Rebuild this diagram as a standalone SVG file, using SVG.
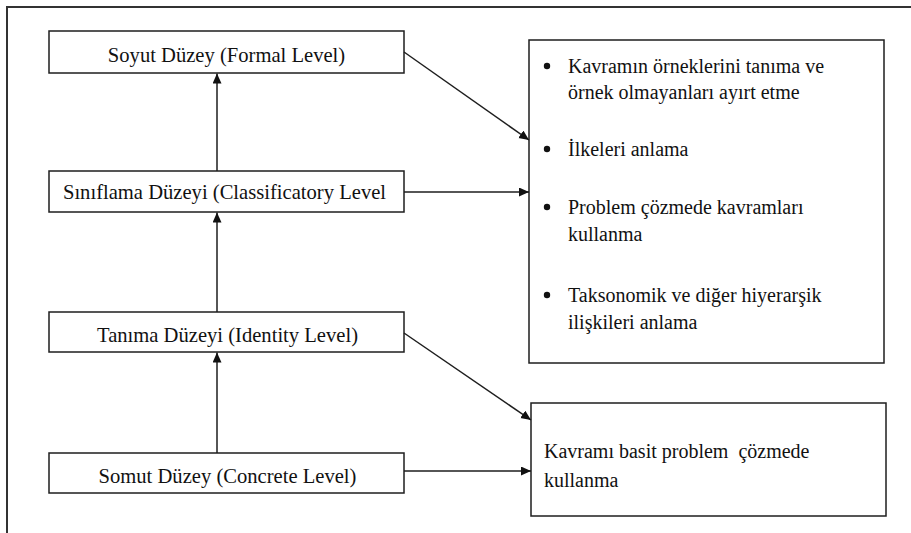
<svg xmlns="http://www.w3.org/2000/svg" width="911" height="533" viewBox="0 0 911 533">
  <style>
    .box { fill: #ffffff; stroke: #1e1e1e; stroke-width: 1.5; }
    .frame { fill: none; stroke: #333333; stroke-width: 2; }
    .edge { fill: none; stroke: #1e1e1e; stroke-width: 1.5; }
    .label { font-family: "Liberation Serif", "Times New Roman", serif; font-size: 20px; fill: #111111; }
    .level { font-size: 20.6px; }
    .mid { text-anchor: middle; }
  </style>
  <defs>
    <marker id="head" markerUnits="userSpaceOnUse" markerWidth="11" markerHeight="10" refX="10" refY="4.5" orient="auto">
      <path d="M0,0 L10,4.5 L0,9 Z" fill="#111111"/>
    </marker>
  </defs>

  <rect width="911" height="533" fill="#ffffff"/>
  <!-- surrounding frame (open at right and bottom) -->
  <path class="frame" d="M7,533 V7 H911"/>

  <!-- level boxes -->
  <g id="soyut">
    <rect class="box" x="49" y="31" width="355" height="42"/>
    <text class="label level mid" x="226.5" y="62">Soyut Düzey (Formal Level)</text>
  </g>
  <g id="siniflama">
    <rect class="box" x="49" y="171" width="355" height="41"/>
    <text class="label level mid" x="224.5" y="199">Sınıflama Düzeyi (Classificatory Level</text>
  </g>
  <g id="tanima">
    <rect class="box" x="49" y="312" width="355" height="40"/>
    <text class="label level mid" x="227.5" y="342">Tanıma Düzeyi (Identity Level)</text>
  </g>
  <g id="somut">
    <rect class="box" x="49" y="453" width="355" height="40"/>
    <text class="label level mid" x="227.5" y="483">Somut Düzey (Concrete Level)</text>
  </g>

  <!-- outcome boxes -->
  <g id="kazanimlar">
    <rect class="box" x="529" y="40" width="355" height="323"/>
    <g class="label">
      <circle cx="547" cy="66" r="3.2"/>
      <text x="568" y="73">Kavramın örneklerini tanıma ve</text>
      <text x="568" y="99">örnek olmayanları ayırt etme</text>
      <circle cx="547" cy="149" r="3.2"/>
      <text x="568" y="156">İlkeleri anlama</text>
      <circle cx="547" cy="207" r="3.2"/>
      <text x="568" y="214">Problem çözmede kavramları</text>
      <text x="568" y="241">kullanma</text>
      <circle cx="547" cy="295" r="3.2"/>
      <text x="568" y="302">Taksonomik ve diğer hiyerarşik</text>
      <text x="568" y="329">ilişkileri anlama</text>
    </g>
  </g>
  <g id="basit">
    <rect class="box" x="531" y="403" width="355" height="113"/>
    <text class="label" x="544" y="458" xml:space="preserve">Kavramı basit problem  çözmede</text>
    <text class="label" x="544" y="487">kullanma</text>
  </g>

  <!-- connectors -->
  <g id="connectors">
    <line class="edge" x1="217" y1="453" x2="217" y2="352.5" marker-end="url(#head)"/>
    <line class="edge" x1="217" y1="312" x2="217" y2="212.5" marker-end="url(#head)"/>
    <line class="edge" x1="217" y1="171" x2="217" y2="73.5" marker-end="url(#head)"/>
    <line class="edge" x1="404" y1="52" x2="529" y2="140" marker-end="url(#head)"/>
    <line class="edge" x1="404" y1="192" x2="529" y2="192" marker-end="url(#head)"/>
    <line class="edge" x1="404" y1="333" x2="531" y2="420" marker-end="url(#head)"/>
    <line class="edge" x1="404" y1="471" x2="531" y2="471" marker-end="url(#head)"/>
  </g>
</svg>
